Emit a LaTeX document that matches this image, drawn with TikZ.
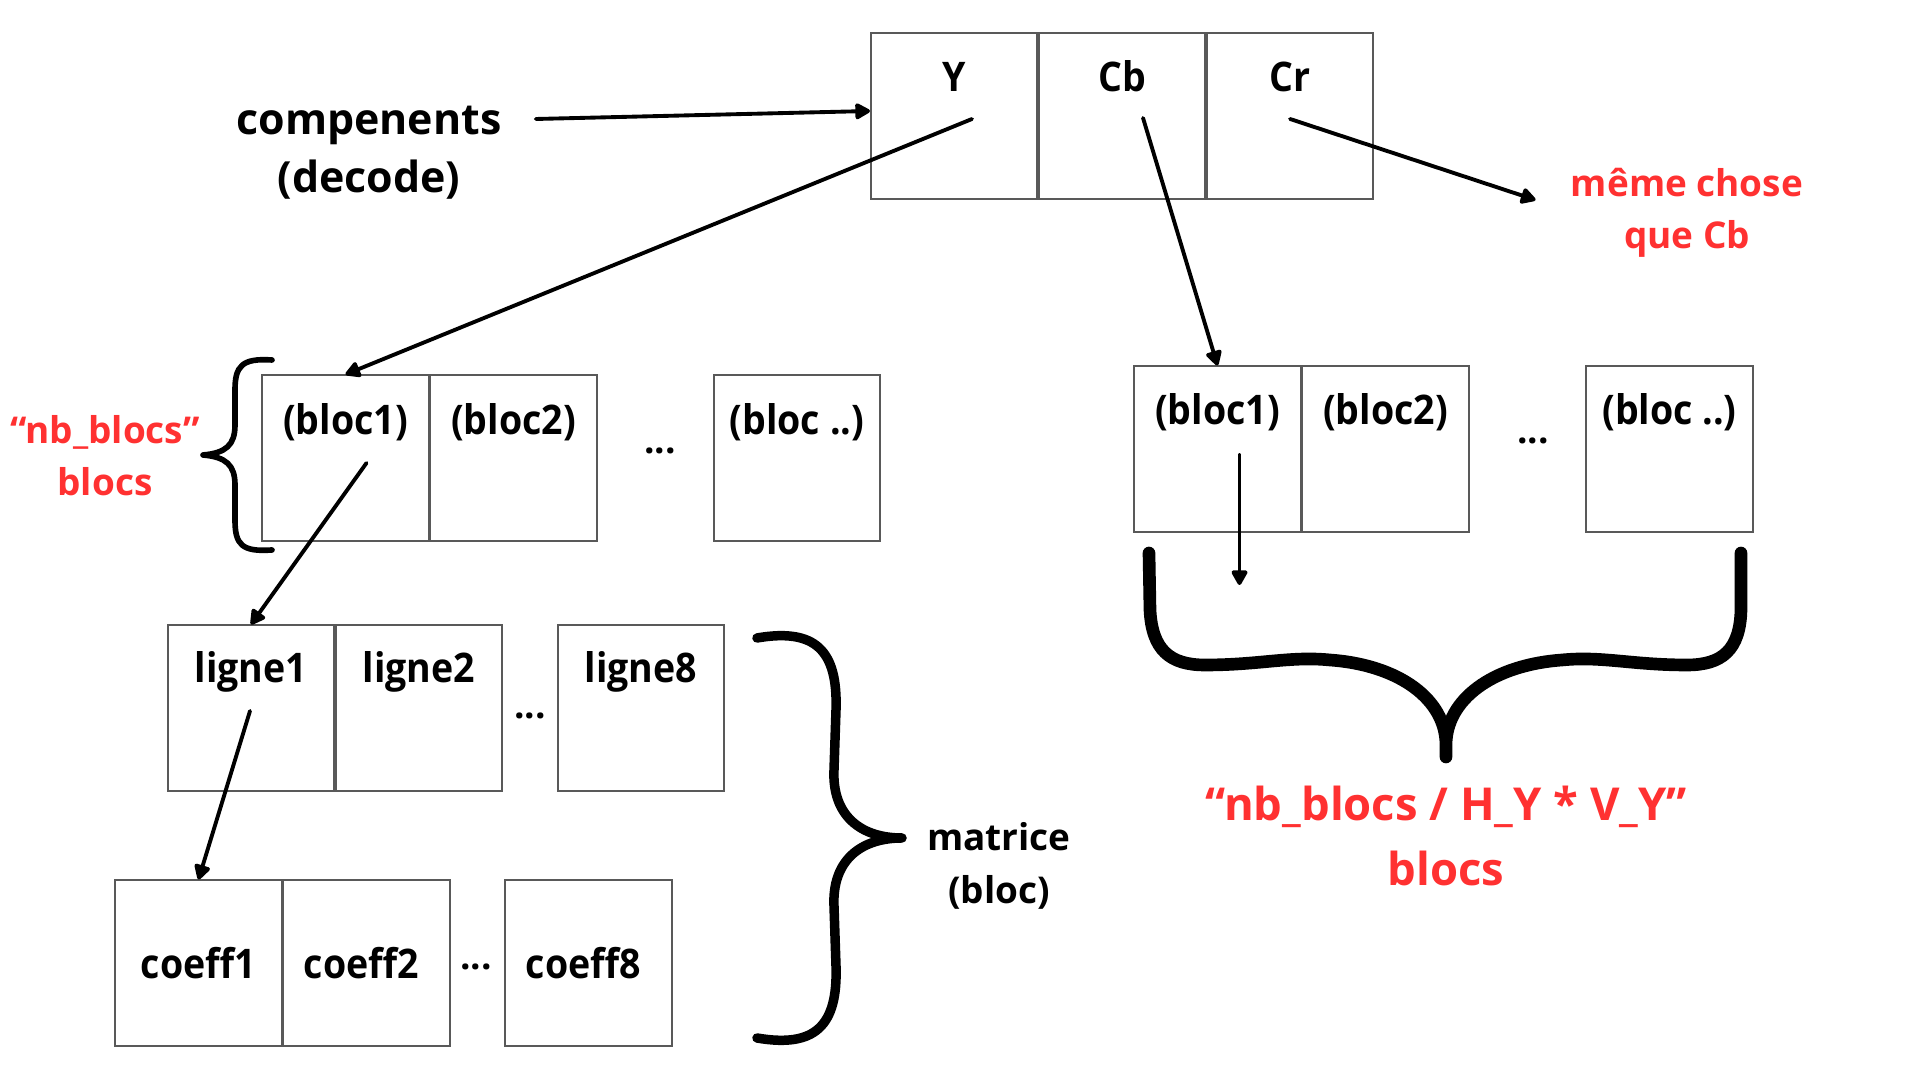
\documentclass[tikz,border=0pt]{standalone}
\usepackage{fontspec}
\setmainfont{Open Sans}
\newfontfamily\cellfont{Open Sans}[FakeStretch=0.92]
\usetikzlibrary{arrows.meta,positioning}
\definecolor{canvared}{RGB}{255,49,49}
\tikzset{
	cell/.style={draw=black!65, line width=0.55pt, minimum width=1.66cm, minimum height=1.65cm, inner sep=0pt},
	celltxt/.style={font=\fontsize{11.6}{13}\cellfont\bfseries, inner sep=1pt},
	dots/.style={font=\fontsize{10.5}{12}\selectfont\bfseries, inner sep=1pt},
	blacktxt/.style={align=center, font=\fontsize{10.5}{15}\selectfont\bfseries},
	redtxt/.style={align=center, text=canvared, font=\fontsize{10.5}{14.8}\selectfont\bfseries},
	arr/.style={-{Triangle[length=4.8pt,width=5pt,round]}, line width=1.1pt, line cap=round},
	brace/.style={line cap=round, line join=round}
}

\begin{document}
\begin{tikzpicture}[x=0.01cm, y=-0.01cm]
		%%%%% START %%%%%
		\fill[white] (0, 0) rectangle (1920, 1080);
		\useasboundingbox (0, 0) rectangle (1920, 1080);
		
		% components
		\node[cell] (y) at (954, 116) {};
		\node[cell, right=0pt of y] (cb) {};
		\node[cell, right=0pt of cb] (cr) {};
		\node[celltxt] (ytxt) at ([shift={(0, 44)}]y.north) {Y};
		\node[celltxt] (cbtxt) at ([shift={(0, 44)}]cb.north) {Cb};
		\node[celltxt] (crtxt) at ([shift={(0, 44)}]cr.north) {Cr};
		
		\node[blacktxt, font=\fontsize{12.2}{16.5}\selectfont\bfseries] (comp) at (369, 153) {compenents\\(decode)};
		\node[redtxt] (meme) at (1687, 213) {même chose\\que Cb};
		
		% blocs of Y
		\node[cell] (lb1) at (345.5, 458) {};
		\node[cell, right=0pt of lb1] (lb2) {};
		\node[cell] (lbn) at (797, 458) {};
		\node[celltxt] (lb1txt) at ([shift={(0, 48)}]lb1.north) {(bloc1)};
		\node[celltxt] (lb2txt) at ([shift={(0, 48)}]lb2.north) {(bloc2)};
		\node[celltxt] (lbntxt) at ([shift={(0, 48)}]lbn.north) {(bloc ..)};
		\node[dots] (lbdots) at (660, 451) {...};
		\node[redtxt] (nbl) at (105, 456) {“nb\_blocs”\\blocs};
		
		% lignes
		\node[cell] (l1) at (251, 708) {};
		\node[cell, right=0pt of l1] (l2) {};
		\node[cell] (l8) at (641, 708) {};
		\node[celltxt] (l1txt) at ([shift={(0, 47)}]l1.north) {ligne1};
		\node[celltxt] (l2txt) at ([shift={(0, 47)}]l2.north) {ligne2};
		\node[celltxt] (l8txt) at ([shift={(0, 47)}]l8.north) {ligne8};
		\node[dots] (ldots) at (530, 716) {...};
		
		% coeffs
		\node[cell] (c1) at (198.5, 963) {};
		\node[cell, right=0pt of c1] (c2) {};
		\node[cell] (c8) at (588.5, 963) {};
		\node[celltxt] (c1txt) at (c1) {coeff1};
		\node[celltxt] (c2txt) at ([shift={(-5, 0)}]c2.center) {coeff2};
		\node[celltxt] (c8txt) at ([shift={(-5, 0)}]c8.center) {coeff8};
		\node[dots] (cdots) at (476, 967) {...};
		
		\node[blacktxt] (mat) at (999, 866) {matrice\\(bloc)};
		
		% blocs of Cb
		\node[cell] (rb1) at (1217.5, 449) {};
		\node[cell, right=0pt of rb1] (rb2) {};
		\node[cell] (rbn) at (1669.5, 449) {};
		\node[celltxt] (rb1txt) at ([shift={(0, 47)}]rb1.north) {(bloc1)};
		\node[celltxt] (rb2txt) at ([shift={(0, 47)}]rb2.north) {(bloc2)};
		\node[celltxt] (rbntxt) at ([shift={(0, 47)}]rbn.north) {(bloc ..)};
		\node[dots] (rbdots) at (1533, 441) {...};
		\coordinate (rbdown) at ([shift={(22, 136)}]rb1.center);
		
		\node[redtxt, font=\fontsize{12.9}{18.4}\selectfont\bfseries] (nbh) at (1446, 836) {“nb\_blocs / H\_Y * V\_Y”\\blocs};
		
		% arrows
		\draw[arr] ([shift={(22, -34)}]comp.east) -- ([shift={(0, -5)}]y.west);
		\draw[arr] ([shift={(18, 3)}]y.center) -- (lb1.north);
		\draw[arr] ([shift={(21, 2)}]cb.center) -- (rb1.north);
		\draw[arr] ([shift={(0, 3)}]cr.center) -- ([shift={(-23, -13)}]meme.west);
		\draw[arr] ([shift={(21, 5)}]lb1.center) -- (l1.north);
		\draw[arr] ([shift={(-1, 3)}]l1.center) -- (c1.north);
		\draw[arr] ([shift={(22, 6)}]rb1.center) -- (rbdown);
		
		% braces
		\draw[brace, line width=1.6pt] (272, 360) .. controls (242, 358) and (235, 366) .. (235, 390) -- (235, 425)
			.. controls (235, 445) and (226, 453) .. (203, 455)
			.. controls (226, 457) and (235, 465) .. (235, 485) -- (235, 520)
			.. controls (235, 545) and (242, 552) .. (272, 550);
		
		\draw[brace, line width=2.7pt] (757, 638) .. controls (815, 628) and (838, 650) .. (836, 710) -- (834, 770)
			.. controls (832, 815) and (860, 838) .. (902, 838)
			.. controls (860, 838) and (832, 861) .. (834, 906) -- (836, 966)
			.. controls (838, 1026) and (815, 1048) .. (757, 1038);
		
		\draw[brace, line width=3.6pt] (1149, 553) -- (1150, 610)
			.. controls (1152, 650) and (1170, 665) .. (1205, 665)
			.. controls (1260, 665) and (1290, 656) .. (1330, 660)
			.. controls (1400, 665) and (1446, 700) .. (1446, 745) -- (1446, 757)
			-- (1446, 745) .. controls (1446, 700) and (1492, 665) .. (1562, 660)
			.. controls (1602, 656) and (1632, 665) .. (1687, 665)
			.. controls (1722, 665) and (1740, 650) .. (1741, 610) -- (1741, 553);
		
		%%%%% END %%%%%
	\end{tikzpicture}
\end{document}
